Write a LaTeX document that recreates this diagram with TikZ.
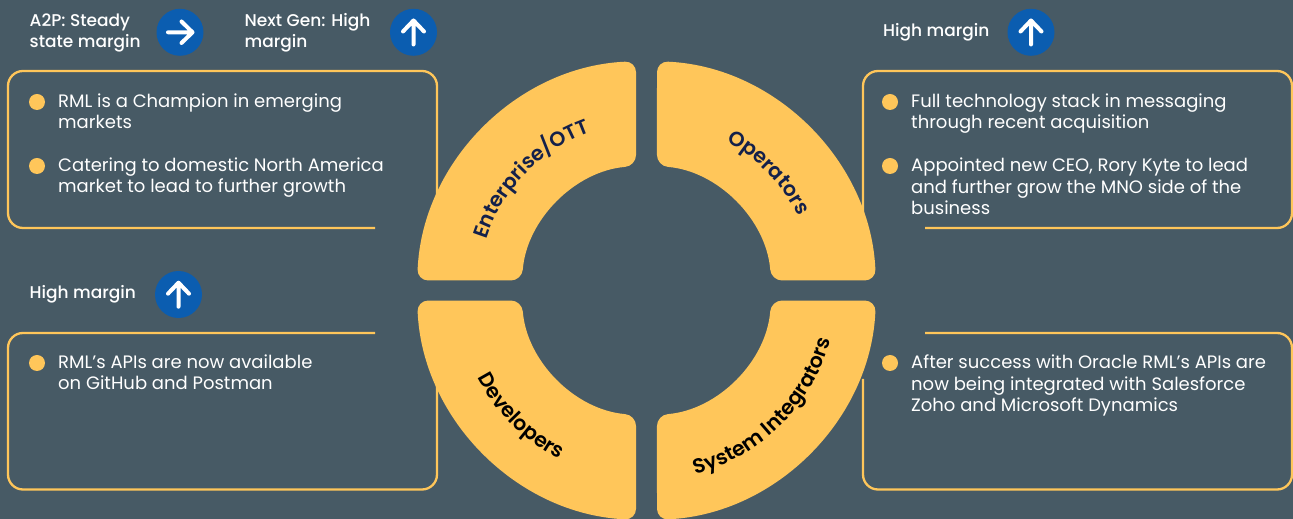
\documentclass[tikz,border=0pt]{standalone}
\usepackage{fontspec}
\setmainfont{Poppins}
\newfontfamily\ringfont{Poppins SemiBold}
\newfontfamily\headfont{Poppins Medium}
\usetikzlibrary{decorations.text}
\definecolor{slatebg}{HTML}{475A65}
\definecolor{ringyellow}{HTML}{FFC65A}
\definecolor{iconblue}{HTML}{0B5DB0}
\definecolor{ringnavy}{HTML}{14204A}
\tikzset{
  panel/.style={draw=ringyellow,line width=2.3pt,rounded corners=15pt},
  ringseg/.style={fill=ringyellow,rounded corners=11pt},
  bodytext/.style={anchor=base west,align=left,text=white,inner sep=0pt,font=\fontsize{18}{21.4}\selectfont},
  headtext/.style={anchor=base west,align=left,text=white,inner sep=0pt,font=\fontsize{17}{21}\selectfont\headfont},
  bullet/.style={circle,fill=ringyellow,minimum size=16pt,inner sep=0pt},
  badge/.style={circle,fill=iconblue,minimum size=47pt,inner sep=0pt},
  badgearrow/.style={draw=white,line width=4pt,line cap=round,line join=round}
}
\newcommand{\ringlabel}[5]{%
  \path[decorate,decoration={text along path,text align=center,
    text={|\fontsize{20.5}{20.5}\ringfont\color{#5}|#4}}]
    (646.5,228.5) ++(#1:#3) arc[start angle=#1,end angle=#2,radius=#3];}
\begin{document}
\begin{tikzpicture}[x=1pt,y=1pt]
  \fill[slatebg] (0,0) rectangle (1293,519);
  \useasboundingbox (0,0) rectangle (1293,519);
  % panels
  \draw[panel] (375,291) -- (8,291) -- (8,448) -- (437,448) -- (437,300);
  \draw[panel] (925,291) -- (1292,291) -- (1292,448) -- (863,448) -- (863,300);
  \draw[panel] (375,186) -- (8,186) -- (8,29.5) -- (437,29.5) -- (437,140);
  \draw[panel] (925,186) -- (1292,186) -- (1292,29.5) -- (863,29.5) -- (863,140);
  % ring
  \foreach \sx/\sy in {1/1,-1/1,-1/-1,1/-1}{
    \fill[ringseg,shift={(646.5,228.5)},xscale=\sx,yscale=\sy]
      (10.5,229.3) arc[start angle=87.4,end angle=2.5,radius=229.5]
      -- (124.6,10) arc[start angle=4.6,end angle=85.2,radius=125] -- cycle;
  }
  \ringlabel{165}{107}{168}{Enterprise/OTT}{ringnavy}
  \ringlabel{63}{25}{169}{Operators}{ringnavy}
  \ringlabel{204}{246}{190}{Developers}{black}
  \ringlabel{-80}{-10}{190.5}{System Integrators}{black}
  % headers
  \node[headtext] (a2p) at (29.5,471) {A2P: Steady\\state margin};
  \node[badge] (a2pbadge) at (180,486.7) {};
  \draw[badgearrow] (168,486.7) -- (192.5,486.7) (181.5,497.5) -- (192.5,486.7) -- (181.5,476);
  \node[headtext] (nextgen) at (244.5,471) {Next Gen: High\\margin};
  \node[badge] (nextgenbadge) at (413.5,486.7) {};
  \draw[badgearrow] (413.5,474.5) -- (413.5,498.5) (403,487.5) -- (413.5,498.5) -- (424,487.5);
  \node[headtext] (opshead) at (883,482.3) {High margin};
  \node[badge] (opsbadge) at (1031,486.7) {};
  \draw[badgearrow] (1031,474.5) -- (1031,498.5) (1020.5,487.5) -- (1031,498.5) -- (1041.5,487.5);
  \node[headtext] (devhead) at (29.5,220) {High margin};
  \node[badge] (devbadge) at (178.5,224.5) {};
  \draw[badgearrow] (178.5,212.3) -- (178.5,236.3) (168,225.3) -- (178.5,236.3) -- (189,225.3);
  % bullets
  \node[bullet] (b1) at (37,417) {};
  \node[bodytext] (t1) at (58,390) {RML is a Champion in emerging\\markets};
  \node[bullet] (b2) at (37,353) {};
  \node[bodytext] (t2) at (58,326) {Catering to domestic North America\\market to lead to further growth};
  \node[bullet] (b3) at (890,417) {};
  \node[bodytext] (t3) at (911,390) {Full technology stack in messaging\\through recent acquisition};
  \node[bullet] (b4) at (890,353) {};
  \node[bodytext] (t4) at (911,304.5) {Appointed new CEO, Rory Kyte to lead\\and further grow the MNO side of the\\business};
  \node[bullet] (b5) at (37,156) {};
  \node[bodytext] (t5) at (58,129) {RML’s APIs are now available\\on GitHub and Postman};
  \node[bullet] (b6) at (890,156) {};
  \node[bodytext] (t6) at (911,107.5) {After success with Oracle RML’s APIs are\\now being integrated with Salesforce\\Zoho and Microsoft Dynamics};
\end{tikzpicture}
\end{document}
